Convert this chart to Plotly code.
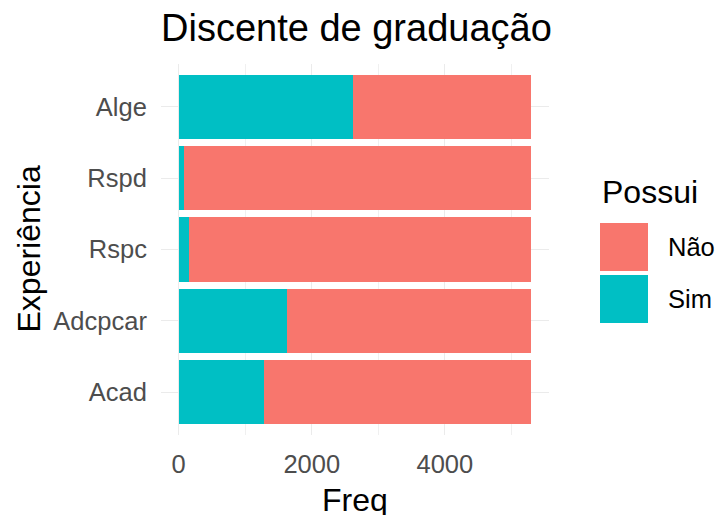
import plotly.graph_objects as go

# Data
categorias = ['Alge', 'Rspd', 'Rspc', 'Adcpcar', 'Acad']
sim = [2627, 80, 150, 1634, 1278]
nao = [2673, 5220, 5150, 3666, 4022]

cor_nao = '#F8766D'
cor_sim = '#00BFC4'

W, H = 718, 515
L, R, T, B = 161, 169, 64, 80
pw, ph = W - L - R, H - T - B


def px_x(x):
    return (x - L) / pw


def px_y(y):
    return (H - B - y) / ph


fig = go.Figure()
fig.add_trace(go.Bar(y=categorias, x=sim, name='Sim', orientation='h',
                     marker=dict(color=cor_sim, line=dict(width=0))))
fig.add_trace(go.Bar(y=categorias, x=nao, name='Não', orientation='h',
                     marker=dict(color=cor_nao, line=dict(width=0))))

fig.update_layout(
    template='none',
    width=W, height=H,
    margin=dict(l=L, r=R, t=T, b=B, autoexpand=False),
    barmode='stack', bargap=0.1,
    showlegend=False,
    paper_bgcolor='white', plot_bgcolor='white',
    font=dict(family='Liberation Sans, Arial', color='black'),
    title=dict(text='Discente de graduação', font=dict(size=38, color='black'),
               xref='paper', x=0, xanchor='left',
               yref='container', y=1 - 28 / H, yanchor='middle'),
    xaxis=dict(range=[-265, 5565], dtick=2000, tick0=0, showgrid=True,
               gridcolor='#EBEBEB', gridwidth=1.4, zeroline=False,
               showline=False, ticks='outside', ticklen=6,
               tickcolor='rgba(0,0,0,0)',
               tickfont=dict(size=25.5, color='#4D4D4D'),
               minor=dict(dtick=1000, tick0=0, showgrid=True,
                          gridcolor='#F0F0F0', gridwidth=0.8)),
    yaxis=dict(categoryorder='array', categoryarray=categorias[::-1],
               range=[-0.6, 4.6], showgrid=True, gridcolor='#EBEBEB',
               gridwidth=1.4, zeroline=False, showline=False,
               ticks='outside', ticklen=8, tickcolor='rgba(0,0,0,0)',
               tickfont=dict(size=25.5, color='#4D4D4D')),
)

# axis titles
fig.add_annotation(text='Freq', xref='paper', yref='paper',
                   x=0.5, y=px_y(500), xanchor='center', yanchor='middle',
                   showarrow=False, font=dict(size=32, color='black'))
fig.add_annotation(text='Experiência', xref='paper', yref='paper',
                   x=px_x(28), y=0.5, xanchor='center', yanchor='middle',
                   textangle=-90, showarrow=False,
                   font=dict(size=32, color='black'))

# legend drawn by hand to get ggplot-sized keys
fig.add_annotation(text='Possui', xref='paper', yref='paper',
                   x=px_x(600), y=px_y(192), xanchor='left', yanchor='middle',
                   showarrow=False, font=dict(size=32, color='black'))
for nome, cor, y0 in [('Não', cor_nao, 223), ('Sim', cor_sim, 275)]:
    fig.add_shape(type='rect', xref='paper', yref='paper',
                  x0=px_x(600), x1=px_x(648), y0=px_y(y0), y1=px_y(y0 + 48),
                  fillcolor=cor, line=dict(width=0))
    fig.add_annotation(text=nome, xref='paper', yref='paper',
                       x=px_x(666), y=px_y(y0 + 24), xanchor='left',
                       yanchor='middle', showarrow=False,
                       font=dict(size=25.5, color='black'))

fig.write_html('out.html', config={'displayModeBar': False},
               post_script="document.body.style.margin='0';")
